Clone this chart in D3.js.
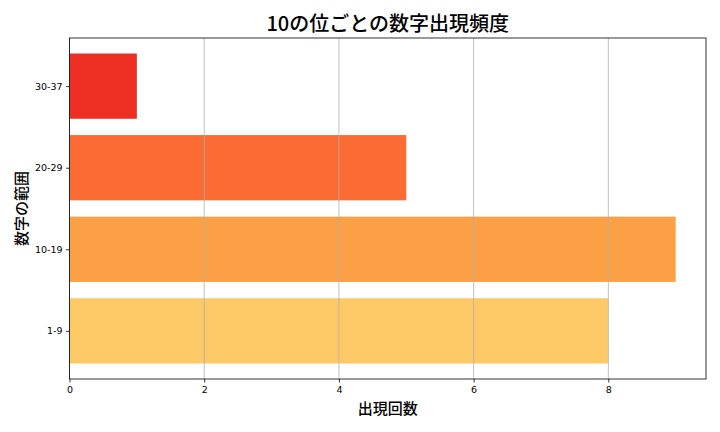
<!DOCTYPE html>
<html>
<head>
<meta charset="utf-8">
<script src="https://cdn.jsdelivr.net/npm/d3@7"></script>
<style>
  body { margin: 0; background: #fff; }
  text { font-family: "DejaVu Sans", sans-serif; }
  .cjk { font-family: "Noto Sans CJK JP", sans-serif; }
</style>
</head>
<body>
<div id="wrapper"></div>
<script>
// Data
const categories = ["1-9", "10-19", "20-29", "30-37"];
const counts = [8, 9, 5, 1];
const barColors = ["#fdc966", "#fca045", "#fc6b33", "#ee2f23"];
const xTicks = [0, 2, 4, 6, 8];

const TITLE = "10の位ごとの数字出現頻度";
const X_LABEL = "出現回数";
const Y_LABEL = "数字の範囲";

const dimensions = {
    width: 720,
    height: 432,
    margin: { top: 38, right: 14, bottom: 53, left: 69.5 }
};
dimensions.boundedWidth = dimensions.width - dimensions.margin.left - dimensions.margin.right;
dimensions.boundedHeight = dimensions.height - dimensions.margin.top - dimensions.margin.bottom;

function drawChart() {
    const wrapper = d3.select("#wrapper")
        .append("svg")
        .attr("width", dimensions.width)
        .attr("height", dimensions.height);

    const bounds = wrapper.append("g")
        .attr("transform", `translate(${dimensions.margin.left},${dimensions.margin.top})`);

    // Scales (matplotlib-like 5% margins)
    const xMax = d3.max(counts) * 1.05;
    const xScale = d3.scaleLinear()
        .domain([0, xMax])
        .range([0, dimensions.boundedWidth]);

    const yScale = d3.scaleLinear()
        .domain([-0.59, categories.length - 1 + 0.59])
        .range([dimensions.boundedHeight, 0]);
    const barH = yScale(0) - yScale(0.8);

    // Bars
    bounds.selectAll("rect.bar")
        .data(categories)
        .join("rect")
        .attr("class", "bar")
        .attr("x", xScale(0))
        .attr("y", (d, i) => yScale(i + 0.4))
        .attr("width", (d, i) => xScale(counts[i]) - xScale(0))
        .attr("height", barH)
        .attr("fill", (d, i) => barColors[i]);

    // Grid (drawn above bars)
    bounds.selectAll("line.grid")
        .data(xTicks)
        .join("line")
        .attr("class", "grid")
        .attr("x1", d => xScale(d))
        .attr("x2", d => xScale(d))
        .attr("y1", 0)
        .attr("y2", dimensions.boundedHeight)
        .attr("stroke", "#b0b0b0")
        .attr("stroke-width", 0.8);

    // Axes
    const xAxis = d3.axisBottom(xScale).tickValues(xTicks).tickSize(3.5).tickPadding(3.5);
    const xAxisG = bounds.append("g")
        .attr("transform", `translate(0,${dimensions.boundedHeight})`)
        .call(xAxis);
    xAxisG.select(".domain").remove();
    xAxisG.selectAll("text").attr("font-size", 9.5).attr("fill", "#000").attr("font-family", "DejaVu Sans");
    xAxisG.selectAll("line").attr("stroke", "#000").attr("stroke-width", 0.8);

    const yAxis = d3.axisLeft(yScale)
        .tickValues(d3.range(categories.length))
        .tickFormat(i => categories[i])
        .tickSize(3.5).tickPadding(3.5);
    const yAxisG = bounds.append("g").call(yAxis);
    yAxisG.select(".domain").remove();
    yAxisG.selectAll("text").attr("font-size", 9.5).attr("fill", "#000").attr("font-family", "DejaVu Sans Condensed, DejaVu Sans");
    yAxisG.selectAll("line").attr("stroke", "#000").attr("stroke-width", 0.8);

    // Frame
    bounds.append("rect")
        .attr("width", dimensions.boundedWidth)
        .attr("height", dimensions.boundedHeight)
        .attr("fill", "none")
        .attr("stroke", "#000")
        .attr("stroke-width", 0.8);

    // Title and labels
    wrapper.append("text")
        .attr("class", "cjk")
        .attr("x", dimensions.margin.left + dimensions.boundedWidth / 2)
        .attr("y", 31)
        .attr("text-anchor", "middle")
        .attr("font-size", 20)
        .attr("font-weight", 500)
        .text(TITLE);

    wrapper.append("text")
        .attr("class", "cjk")
        .attr("x", dimensions.margin.left + dimensions.boundedWidth / 2)
        .attr("y", 414)
        .attr("text-anchor", "middle")
        .attr("font-size", 15)
        .attr("font-weight", 500)
        .text(X_LABEL);

    wrapper.append("text")
        .attr("class", "cjk")
        .attr("transform", `translate(27,${dimensions.margin.top + dimensions.boundedHeight / 2}) rotate(-90)`)
        .attr("text-anchor", "middle")
        .attr("font-size", 15)
        .attr("font-weight", 500)
        .text(Y_LABEL);
}
drawChart();
</script>
</body>
</html>
